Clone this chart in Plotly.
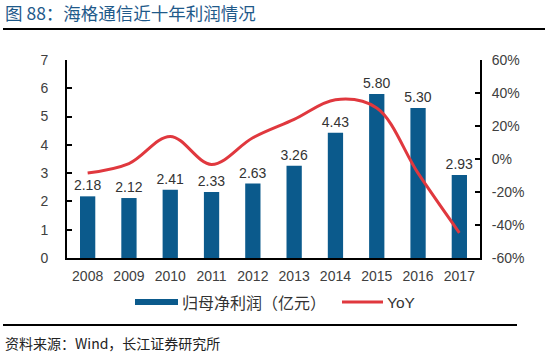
import plotly.graph_objects as go

years = ["2008", "2009", "2010", "2011", "2012", "2013", "2014", "2015", "2016", "2017"]
profit = [2.18, 2.12, 2.41, 2.33, 2.63, 3.26, 4.43, 5.80, 5.30, 2.93]
yoy = [-0.085, -0.0275, 0.137, -0.033, 0.129, 0.24, 0.359, 0.309, -0.086, -0.447]
profit_labels = ["2.18", "2.12", "2.41", "2.33", "2.63", "3.26", "4.43", "5.80", "5.30", "2.93"]
left_ticks = [0, 1, 2, 3, 4, 5, 6, 7]
right_ticks = [-0.6, -0.4, -0.2, 0, 0.2, 0.4, 0.6]
right_tick_text = ["-60%", "-40%", "-20%", "0%", "20%", "40%", "60%"]

W, H = 550, 356
L, R, T, B = 67, 480, 60, 258
BLUE = "#0B5A8C"
RED = "#E0383E"
FONT = "Liberation Sans, Arial, Noto Sans CJK SC"
CJK = "Noto Sans CJK SC, Liberation Sans"

def px(x):
    return (x - L) / (R - L)

def py(y):
    return (B - y) / (B - T)

fig = go.Figure()
fig.add_trace(go.Bar(
    x=years, y=profit, name="归母净利润（亿元）",
    marker=dict(color=BLUE, line=dict(width=0)),
    width=0.37,
    text=profit_labels, textposition="outside", cliponaxis=False,
    constraintext="none",
    textfont=dict(size=14, color="#333333", family=FONT),
))
fig.add_trace(go.Scatter(
    x=years, y=yoy, name="YoY", yaxis="y2", mode="lines",
    line=dict(color=RED, width=3, shape="spline", smoothing=1.0),
))

fig.update_layout(
    width=W, height=H,
    margin=dict(l=L, r=W - R, t=T, b=H - B, pad=0),
    paper_bgcolor="white", plot_bgcolor="white",
    showlegend=False,
    font=dict(family=FONT, size=14, color="#404040"),
    xaxis=dict(
        type="category", showline=True, linecolor="black", linewidth=2,
        ticks="", showgrid=False, tickfont=dict(size=14, color="#404040"),
        ticklabelstandoff=4,
    ),
    yaxis=dict(
        range=[0, 7], tickvals=left_ticks, showline=True, linecolor="black", linewidth=2,
        ticks="inside", ticklen=5, tickcolor="black", tickwidth=2, showgrid=False,
        zeroline=False, tickfont=dict(size=14, color="#404040"), ticklabelstandoff=14,
    ),
    yaxis2=dict(
        range=[-0.6, 0.6], tickvals=right_ticks, ticktext=right_tick_text,
        overlaying="y", side="right", showline=True, linecolor="black", linewidth=2,
        ticks="inside", ticklen=5, tickcolor="black", tickwidth=2, showgrid=False,
        zeroline=False, tickfont=dict(size=14, color="#404040"), ticklabelstandoff=7,
    ),
)

shapes = [
    dict(type="line", xref="paper", yref="paper", x0=px(3), x1=px(545), y0=py(29), y1=py(29),
         line=dict(color="black", width=2)),
    dict(type="line", xref="paper", yref="paper", x0=px(3), x1=px(517), y0=py(325), y1=py(325),
         line=dict(color="black", width=2)),
    dict(type="rect", xref="paper", yref="paper", x0=px(135), x1=px(178), y0=py(305), y1=py(299),
         fillcolor=BLUE, line=dict(width=0)),
    dict(type="line", xref="paper", yref="paper", x0=px(342), x1=px(383), y0=py(302), y1=py(302),
         line=dict(color=RED, width=3)),
]
fig.update_layout(shapes=shapes)

annotations = [
    dict(text="图 88：海格通信近十年利润情况", xref="paper", yref="paper", x=px(3), y=py(13),
         xanchor="left", yanchor="middle", showarrow=False,
         font=dict(family=CJK, size=17.5, color="#1F5A8A")),
    dict(text="资料来源：Wind，长江证券研究所", xref="paper", yref="paper", x=px(3), y=py(343),
         xanchor="left", yanchor="middle", showarrow=False,
         font=dict(family=CJK, size=14, color="#222222")),
    dict(text="归母净利润（亿元）", xref="paper", yref="paper", x=px(180), y=py(302),
         xanchor="left", yanchor="middle", showarrow=False,
         font=dict(family=CJK, size=16, color="#333333")),
    dict(text="YoY", xref="paper", yref="paper", x=px(385), y=py(302),
         xanchor="left", yanchor="middle", showarrow=False,
         font=dict(family=FONT, size=15.5, color="#333333")),
]
fig.update_layout(annotations=annotations)

fig.write_html(
    "out.html",
    config={"displayModeBar": False},
    post_script="document.body.style.margin='0';document.body.style.overflow='hidden';",
)
